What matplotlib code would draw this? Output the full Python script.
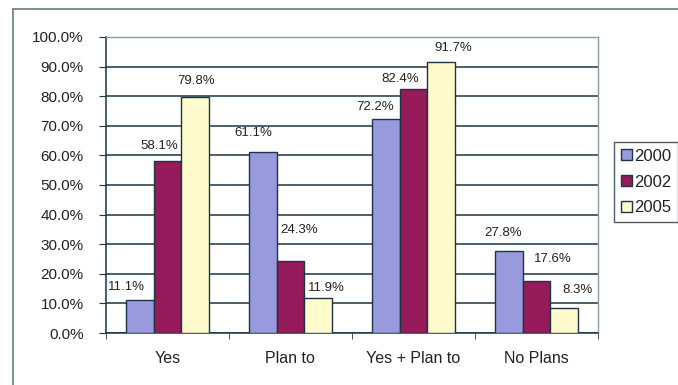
import matplotlib.pyplot as plt
import numpy as np
from matplotlib.patches import Rectangle

# Survey answers per year
categories = ['Yes', 'Plan to', 'Yes + Plan to', 'No Plans']
years = ['2000', '2002', '2005']
vals_2000 = [11.1, 61.1, 72.2, 27.8]
vals_2002 = [58.1, 24.3, 82.4, 17.6]
vals_2005 = [79.8, 11.9, 91.7, 8.3]

colors = ['#9999dd', '#951a5a', '#fffbcc']
edge = '#1c3444'
txt = '#222222'

# label nudges in pixels (dx, dy above bar top), like the manual Excel placement
nudges = [
    [(-13, 13), (-9, 19), (-11, 12), (-6, 18)],
    [(-8, 15), (9, 31), (-13, 10), (16, 22)],
    [(1, 16), (8, 10), (12, 14), (13, 18)],
]

plt.rcParams['font.family'] = ['Liberation Sans', 'DejaVu Sans']

fig = plt.figure(figsize=(6.78, 3.85), dpi=100)
ax = fig.add_axes([0.156, 0.135, 0.726, 0.769])

x = np.arange(len(categories))
w = 0.224
series = [vals_2000, vals_2002, vals_2005]
for i, (vals, yr) in enumerate(zip(series, years)):
    bars = ax.bar(x + (i - 1) * w, vals, w, color=colors[i], edgecolor=edge,
                  linewidth=1.0, label=yr, zorder=3)
    for j, b in enumerate(bars):
        dx, dy = nudges[i][j]
        ax.annotate(f'{vals[j]:.1f}%', (b.get_x() + b.get_width() / 2, b.get_height()),
                    xytext=(dx, dy), textcoords='offset pixels',
                    ha='center', va='center', fontsize=9.5, color=txt)

ax.set_xlim(-0.5, len(categories) - 0.5)
ax.set_ylim(0, 100)
ax.set_yticks(np.arange(0, 101, 10))
ax.set_yticklabels([f'{v:.1f}%' for v in range(0, 101, 10)])
ax.yaxis.grid(True, color=edge, linewidth=1.1, zorder=0)
ax.set_axisbelow(True)

ax.set_xticks(x)
ax.set_xticklabels(categories)
ax.set_xticks(np.arange(-0.5, len(categories)), minor=True)
ax.tick_params(axis='x', which='major', length=0, pad=13, labelsize=11.5, labelcolor=txt)
ax.tick_params(axis='x', which='minor', length=4, color=edge, direction='out')
ax.tick_params(axis='y', length=5, color=edge, labelsize=11, labelcolor=txt, pad=11)

for s in ['left', 'bottom']:
    ax.spines[s].set_color(edge)
    ax.spines[s].set_linewidth(1.1)
for s in ['top', 'right']:
    ax.spines[s].set_color('#8a9aa5')
    ax.spines[s].set_linewidth(1.0)

leg = fig.legend(loc='upper left', bbox_to_anchor=(0.906, 0.631), borderaxespad=0,
                 fontsize=12, frameon=True, fancybox=False, handlelength=0.65,
                 handleheight=0.65, handletextpad=0.15, labelspacing=0.65,
                 borderpad=0.4)
leg.get_frame().set_edgecolor(edge)
leg.get_frame().set_linewidth(1.0)
for t in leg.get_texts():
    t.set_color(txt)

# outer chart border
fig.patches.append(Rectangle((13 / 678, -0.1), 1.0, 1.1 - 9 / 385, transform=fig.transFigure,
                             fill=False, edgecolor='#6a7a84', linewidth=1.2))

fig.savefig('out.png', dpi=100)
